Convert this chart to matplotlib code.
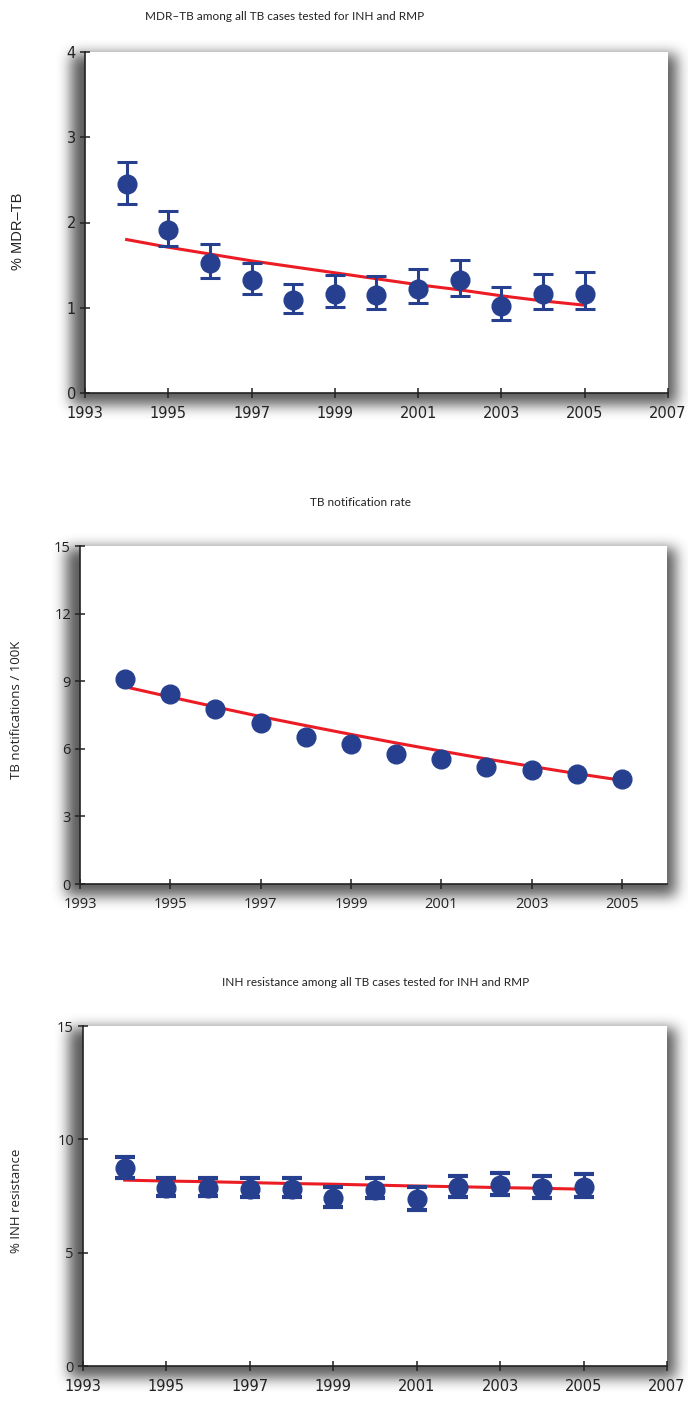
import numpy as np
import matplotlib
matplotlib.use("Agg")
import matplotlib.pyplot as plt

# MDR-TB among all TB cases tested for INH and RMP (%)
years = [1994, 1995, 1996, 1997, 1998, 1999, 2000, 2001, 2002, 2003, 2004, 2005]
mdr_pct = [2.45, 1.91, 1.52, 1.32, 1.09, 1.16, 1.15, 1.22, 1.32, 1.02, 1.16, 1.16]
mdr_lo = [2.22, 1.72, 1.35, 1.16, 0.94, 1.01, 0.99, 1.05, 1.14, 0.86, 0.99, 0.99]
mdr_hi = [2.71, 2.14, 1.75, 1.52, 1.28, 1.38, 1.37, 1.45, 1.56, 1.24, 1.40, 1.42]
mdr_trend = [1.80, 1.71, 1.63, 1.55, 1.48, 1.41, 1.34, 1.27, 1.21, 1.14, 1.08, 1.03]

# TB notifications per 100K
notif_rate = [9.10, 8.42, 7.77, 7.13, 6.53, 6.21, 5.76, 5.56, 5.18, 5.04, 4.87, 4.66]
notif_trend = [8.75, 8.30, 7.86, 7.43, 7.03, 6.64, 6.26, 5.90, 5.55, 5.22, 4.90, 4.60]

# INH resistance among all TB cases tested (%)
inh_pct = [8.75, 7.85, 7.85, 7.80, 7.80, 7.40, 7.75, 7.35, 7.90, 8.00, 7.85, 7.90]
inh_lo = [8.30, 7.50, 7.50, 7.45, 7.45, 7.00, 7.40, 6.90, 7.45, 7.55, 7.40, 7.45]
inh_hi = [9.20, 8.30, 8.30, 8.30, 8.30, 7.90, 8.30, 7.90, 8.40, 8.50, 8.40, 8.45]
inh_trend = [8.20, 8.16, 8.13, 8.09, 8.05, 8.02, 7.98, 7.94, 7.91, 7.87, 7.84, 7.80]

W, H = 688, 1403
DOT = "#263f8f"
RED = "#ec1c24"
INK = "#222222"
NARROW = ["Liberation Sans Narrow", "DejaVu Sans"]
HUMAN = ["Open Sans", "DejaVu Sans"]
TITLE = ["Lato", "DejaVu Sans"]

fig = plt.figure(figsize=(W / 100, H / 100), dpi=100)
fig.patch.set_facecolor("white")

# plot boxes in pixels: left, top, right, bottom
boxes = [(85, 52, 668, 393), (80, 546, 667, 884), (83, 1026, 667, 1366)]


def blur(a, r, passes=3):
    k = 2 * r + 1
    for _ in range(passes):
        for ax_ in (0, 1):
            p = np.pad(a, [(r, r) if i == ax_ else (0, 0) for i in (0, 1)], mode="edge")
            c = np.cumsum(p, axis=ax_)
            c = np.insert(c, 0, 0, axis=ax_)
            if ax_ == 0:
                a = (c[k:, :] - c[:-k, :]) / k
            else:
                a = (c[:, k:] - c[:, :-k]) / k
    return a


# soft drop shadow behind each plot box
mask = np.zeros((H, W))
for l, t, r, b in boxes:
    mask[t + 2:b + 12, l - 14:r + 9] = 1.0
shade = blur(mask, 6)
rgba = np.zeros((H, W, 4))
rgba[..., :3] = 0.25
rgba[..., 3] = np.clip(shade, 0, 1) * 0.85
bg = fig.add_axes([0, 0, 1, 1], zorder=0)
bg.imshow(rgba, extent=(0, W, H, 0), aspect="auto", interpolation="bilinear")
bg.set_xlim(0, W)
bg.set_ylim(H, 0)
bg.axis("off")


def panel(box, xlim, xticks, ylim, yticks, tick_font):
    l, t, r, b = box
    ax = fig.add_axes([l / W, 1 - b / H, (r - l) / W, (b - t) / H], zorder=1)
    ax.set_facecolor("white")
    ax.set_xlim(*xlim)
    ax.set_ylim(*ylim)
    ax.set_xticks(xticks)
    ax.set_yticks(yticks)
    for s in ("top", "right"):
        ax.spines[s].set_visible(False)
    for s in ("left", "bottom"):
        ax.spines[s].set_color(INK)
        ax.spines[s].set_linewidth(1.2)
    ax.tick_params(direction="inout", length=7, width=1.1, color=INK, labelcolor=INK,
                   labelsize=10.5, pad=3)
    ax.tick_params(axis="x", pad=6)
    for lab in ax.get_xticklabels() + ax.get_yticklabels():
        lab.set_family(tick_font)
    return ax


def err_points(ax, y, lo, hi, lw=2.2, cap=7, capw=2.2):
    y = np.array(y)
    yerr = [y - np.array(lo), np.array(hi) - y]
    ax.errorbar(years, y, yerr=yerr, fmt="o", color=DOT, ms=13.5, elinewidth=lw,
                capsize=cap, capthick=capw, zorder=3, clip_on=False)


# MDR-TB
ax1 = panel(boxes[0], (1993, 2007), range(1993, 2008, 2), (0, 4), range(0, 5), NARROW)
ax1.plot(years, mdr_trend, color=RED, lw=2.2, zorder=2)
err_points(ax1, mdr_pct, mdr_lo, mdr_hi)
fig.text(285 / W, 1 - 17 / H, "MDR\u2013TB among all TB cases tested for INH and RMP",
         ha="center", va="center", fontsize=8.5, family=TITLE, color=INK)
fig.text(18 / W, 1 - 231 / H, "% MDR\u2013TB", rotation=90, ha="center", va="center",
         fontsize=10.5, family=["Liberation Sans", "DejaVu Sans"], color=INK)

# TB notification rate
ax2 = panel(boxes[1], (1993, 2006), range(1993, 2006, 2), (0, 15), range(0, 16, 3), HUMAN)
ax2.plot(years, notif_trend, color=RED, lw=2.2, zorder=2)
ax2.plot(years, notif_rate, "o", color=DOT, ms=13.5, zorder=3, clip_on=False)
fig.text(360 / W, 1 - 503 / H, "TB notification rate", ha="center", va="center",
         fontsize=8.5, family=TITLE, color=INK)
fig.text(17 / W, 1 - 710 / H, "TB notifications / 100K", rotation=90, ha="center",
         va="center", fontsize=9.5, family=HUMAN, color=INK)

# INH resistance
ax3 = panel(boxes[2], (1993, 2007), range(1993, 2008, 2), (0, 15), range(0, 16, 5), NARROW)
for lab in ax3.get_yticklabels():
    lab.set_family(HUMAN)
ax3.plot(years, inh_trend, color=RED, lw=2.2, zorder=2)
err_points(ax3, inh_pct, inh_lo, inh_hi, lw=2.2, cap=7, capw=3)
fig.text(376 / W, 1 - 983 / H, "INH resistance among all TB cases tested for INH and RMP",
         ha="center", va="center", fontsize=8.5, family=TITLE, color=INK)
fig.text(17 / W, 1 - 1201 / H, "% INH resistance", rotation=90, ha="center", va="center",
         fontsize=9.5, family=HUMAN, color=INK)

fig.savefig("out.png", dpi=100)
